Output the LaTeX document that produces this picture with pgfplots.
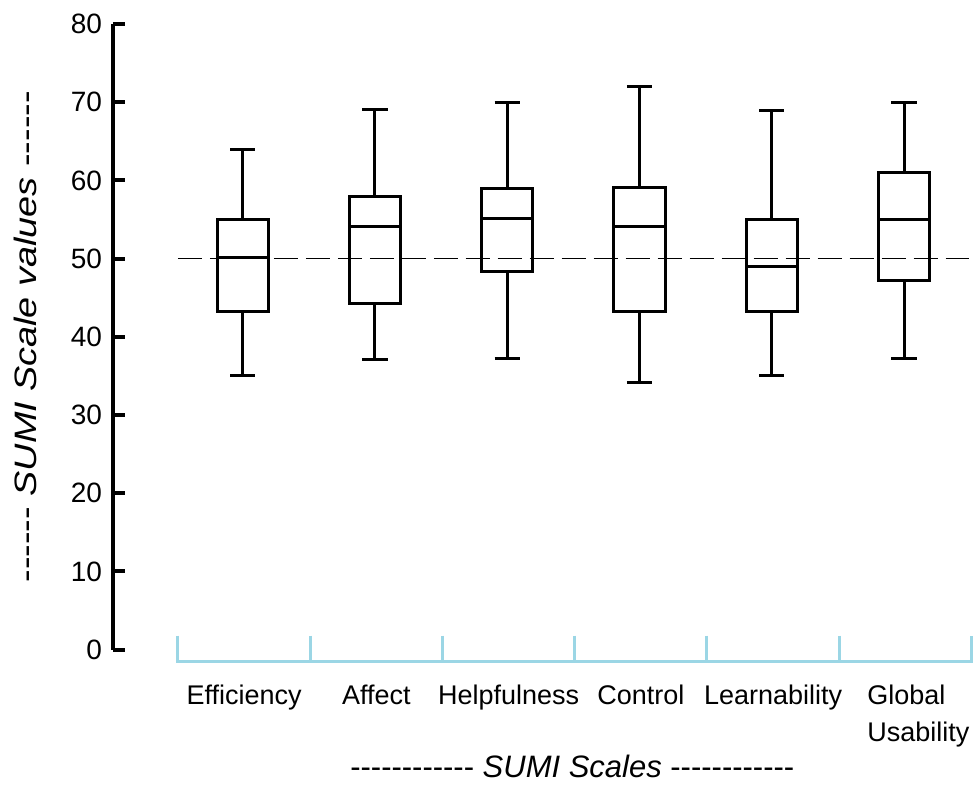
\documentclass[border=0pt]{standalone}
\usepackage{fontspec}
\setmainfont{Liberation Sans}
\usepackage{graphicx}
\usepackage{pgfplots}
\pgfplotsset{compat=1.18}
\usepgfplotslibrary{statistics}
\definecolor{axblue}{RGB}{155,214,229}
\newcommand\six{-{}-{}-{}-{}-{}-}
\newcommand\twelve{\six{}\six}
\begin{document}
\begin{tikzpicture}
\begin{axis}[
  scale only axis, width=429.5pt, height=313pt,
  xmin=0.009, xmax=6.5, ymin=0, ymax=80,
  axis y line=left, axis x line*=bottom,
  x axis line style={draw=none},
  y axis line style={line width=2pt, -, black},
  ytick={0,10,...,80},
  ytick style={line width=2pt, black},
  major tick length=6pt, tick align=inside,
  xtick={1,...,6},
  xticklabels={Efficiency,Affect,Helpfulness,Control,Learnability,{\hspace*{13pt}Global\\[2.5pt]\hspace*{13pt}Usability}},
  xtick style={draw=none},
  xticklabel style={align=left, anchor=north, inner xsep=0pt, yshift=-14pt, font=\fontsize{13.5}{16}\selectfont},
  yticklabel style={font=\fontsize{14}{16}\selectfont, xshift=-2pt},
  /pgf/number format/assume math mode=true,
  clip=false,
  xlabel={\fontsize{15.5}{17}\selectfont\twelve{} \textit{SUMI Scales} \twelve},
  xlabel style={at={(axis description cs:0.535,-0.2045)}, anchor=base},
  ylabel={\scalebox{1.22}[1]{\fontsize{15.5}{17}\selectfont\six{} \textit{SUMI Scale values} \six}},
  ylabel style={at={(axis description cs:-0.1025,0.5)}, anchor=center},
  boxplot/draw direction=y,
]
\draw[dash pattern=on 12pt off 4pt, line width=0.7pt] (axis cs:0.5,50) -- (axis cs:6.5,50);
\draw[axblue, line width=1.5pt] (axis cs:0.5,1.79) -- (axis cs:0.5,-1.53) -- (axis cs:6.5,-1.53) -- (axis cs:6.5,1.79);
\draw[axblue, line width=1.5pt] (axis cs:1.5,1.79) -- (axis cs:1.5,-1.53);
\draw[axblue, line width=1.5pt] (axis cs:2.5,1.79) -- (axis cs:2.5,-1.53);
\draw[axblue, line width=1.5pt] (axis cs:3.5,1.79) -- (axis cs:3.5,-1.53);
\draw[axblue, line width=1.5pt] (axis cs:4.5,1.79) -- (axis cs:4.5,-1.53);
\draw[axblue, line width=1.5pt] (axis cs:5.5,1.79) -- (axis cs:5.5,-1.53);
\addplot[black, solid, line width=1.5pt, boxplot prepared={lower whisker=35.0, lower quartile=43.2, median=50.1, upper quartile=55.0, upper whisker=64.0, draw position=0.99, box extend=0.388, whisker extend=0.19}] coordinates {};
\addplot[black, solid, line width=1.5pt, boxplot prepared={lower whisker=37.1, lower quartile=44.3, median=54.1, upper quartile=58.0, upper whisker=69.1, draw position=1.99, box extend=0.388, whisker extend=0.19}] coordinates {};
\addplot[black, solid, line width=1.5pt, boxplot prepared={lower whisker=37.2, lower quartile=48.3, median=55.1, upper quartile=59.0, upper whisker=70.0, draw position=2.99, box extend=0.388, whisker extend=0.19}] coordinates {};
\addplot[black, solid, line width=1.5pt, boxplot prepared={lower whisker=34.1, lower quartile=43.2, median=54.1, upper quartile=59.1, upper whisker=72.0, draw position=3.99, box extend=0.388, whisker extend=0.19}] coordinates {};
\addplot[black, solid, line width=1.5pt, boxplot prepared={lower whisker=35.1, lower quartile=43.2, median=49.0, upper quartile=55.0, upper whisker=69.0, draw position=4.99, box extend=0.388, whisker extend=0.19}] coordinates {};
\addplot[black, solid, line width=1.5pt, boxplot prepared={lower whisker=37.2, lower quartile=47.2, median=55.0, upper quartile=61.0, upper whisker=70.0, draw position=5.99, box extend=0.388, whisker extend=0.19}] coordinates {};
\end{axis}
\path (-56.5pt,-66.5pt) rectangle (430pt,325pt);
\end{tikzpicture}
\end{document}
